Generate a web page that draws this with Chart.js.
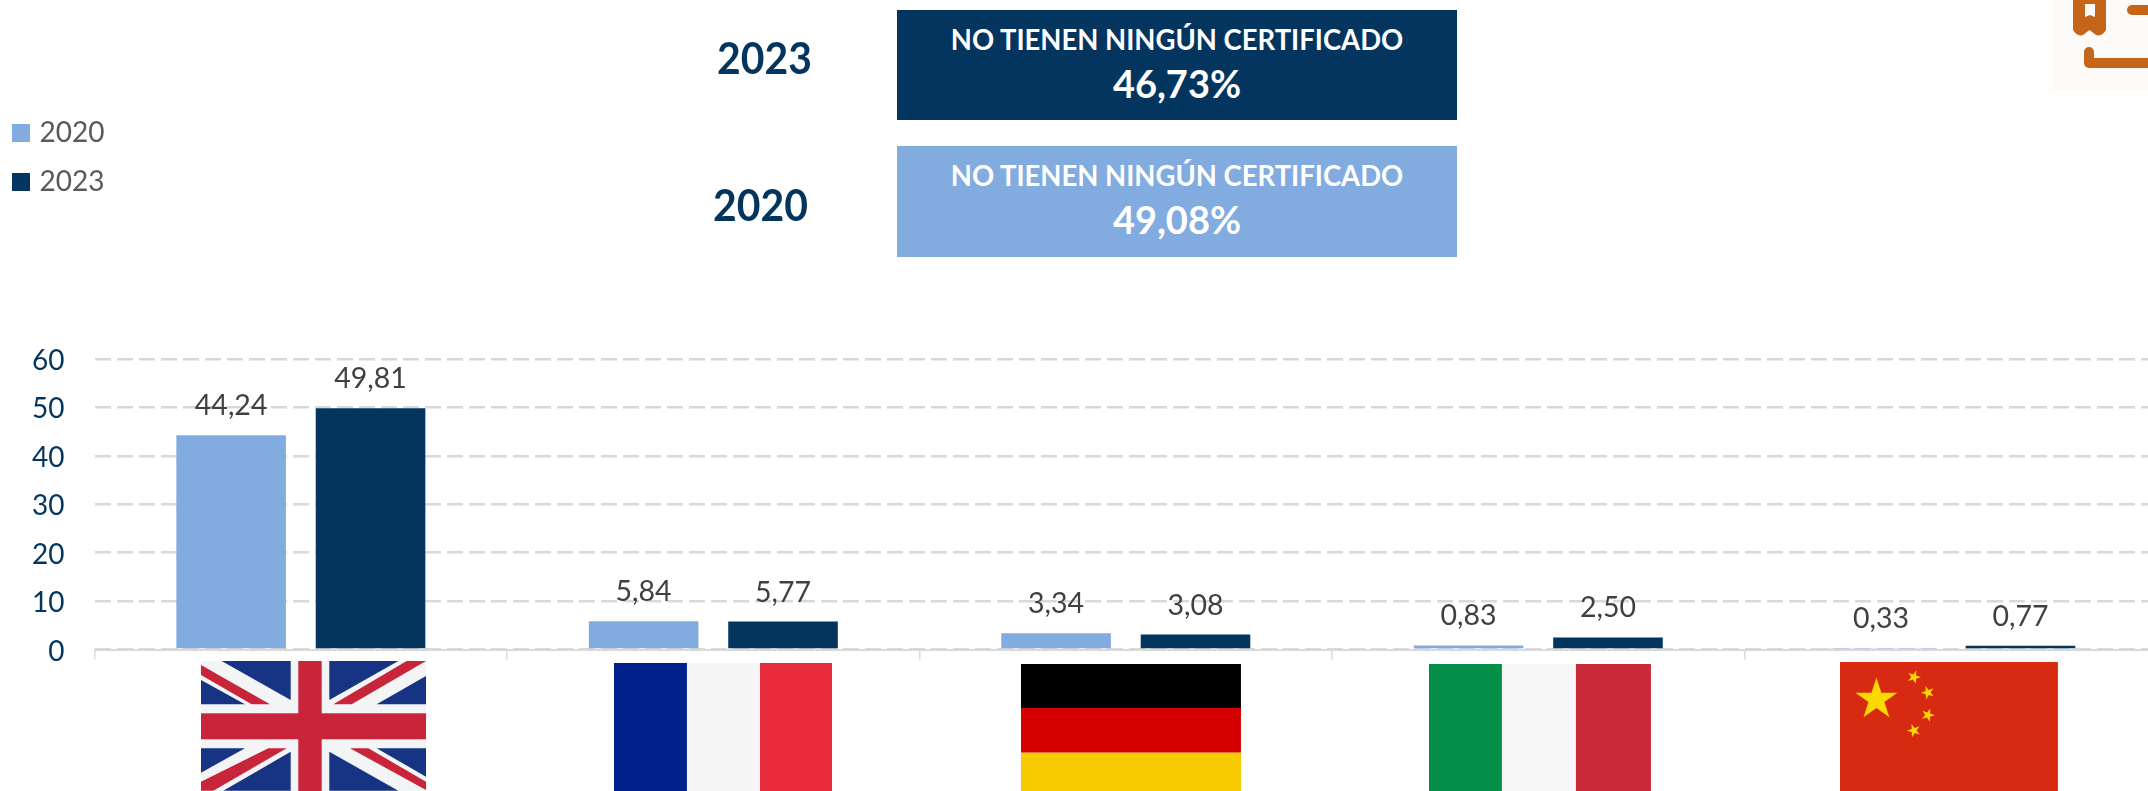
<!DOCTYPE html>
<html lang="es">
<head>
<meta charset="utf-8">
<title>No tienen ningún certificado</title>
<script src="https://cdn.jsdelivr.net/npm/chart.js@4"></script>
<style>
html,body{margin:0;padding:0;background:#fff;width:2148px;height:791px;overflow:hidden;font-family:Lato,sans-serif}
#chart{position:absolute;left:0;top:0}
.year{position:absolute;font-weight:700;font-size:44px;line-height:44px;color:#03355f;transform:scaleX(.93);transform-origin:left center}
.box{position:absolute;left:897px;width:560px;color:#fff;font-weight:700;text-align:center}
.box .a{position:absolute;left:0;right:0;font-size:28px;line-height:30px;transform:scaleX(.98)}
.box .b{position:absolute;left:0;right:0;font-size:38px;line-height:40px}
#icon{position:absolute;left:2052px;top:0}
</style>
</head>
<body>
<canvas id="chart" width="2157" height="791" style="width:2157px;height:791px"></canvas>
<div class="year" id="y1" style="left:717px;top:35px"></div>
<div class="year" id="y2" style="left:713px;top:182px"></div>
<div class="box" id="b1" style="top:10px;height:110px;background:#03355f"><div class="a" style="top:14px"></div><div class="b" style="top:53px"></div></div>
<div class="box" id="b2" style="top:146px;height:111px;background:#82ace0"><div class="a" style="top:14px"></div><div class="b" style="top:53px"></div></div>
<svg id="icon" width="96" height="90" viewBox="0 0 96 90">
<rect width="96" height="90" fill="#fdfaf8"/>
<path d="M21 -2H54V30Q50 37 44 35L37.5 30L31 35Q25 37 21 30Z" fill="#c4651a"/>
<path d="M33 4H43V17L38 15L33 17Z" fill="#fdfaf8"/>
<rect x="75" y="5" width="30" height="10" rx="5" fill="#c4651a"/>
<path d="M37 52V63H100" fill="none" stroke="#c4651a" stroke-width="10" stroke-linecap="round" stroke-linejoin="round"/>
</svg>
<script>
const categories = ['Reino Unido','Francia','Alemania','Italia','China'];
const seriesNames = ['2020','2023'];
const values2020 = [44.24,5.84,3.34,0.83,0.33];
const values2023 = [49.81,5.77,3.08,2.50,0.77];
const yTicks = [0,10,20,30,40,50,60];
const headerTitle = 'NO TIENEN NINGÚN CERTIFICADO';
const total2023 = '46,73%';
const total2020 = '49,08%';

const NAVY='#03355f', LIGHT='#82ace0', GRID='#d9d9d9';

document.getElementById('y1').textContent=seriesNames[1];
document.getElementById('y2').textContent=seriesNames[0];
for(const [id,t] of [['b1',total2023],['b2',total2020]]){
  const b=document.getElementById(id);
  b.querySelector('.a').textContent=headerTitle;
  b.querySelector('.b').textContent=t;
}

function poly(ctx,pts,color){
  ctx.fillStyle=color;ctx.beginPath();
  pts.forEach((p,i)=>i?ctx.lineTo(p[0],p[1]):ctx.moveTo(p[0],p[1]));
  ctx.closePath();ctx.fill();
}
function star(ctx,cx,cy,r,rot,color){
  const p=[];
  for(let i=0;i<10;i++){
    const a=rot-Math.PI/2+i*Math.PI/5, q=i%2?r*0.382:r;
    p.push([cx+q*Math.cos(a),cy+q*Math.sin(a)]);
  }
  poly(ctx,p,color);
}
function bands(ctx,w,h,stops,vertical){
  stops.forEach(([from,to,c])=>{
    ctx.fillStyle=c;
    if(vertical) ctx.fillRect(from,0,to-from,h); else ctx.fillRect(0,from,w,to-from);
  });
}
const flags=[
 {dx:12.65,top:661,w:225,h:130,draw(c,w,h){
   c.fillStyle='#f3f4f6';c.fillRect(0,0,w,h);
   const B='#173384',R='#c8243a',s=1/3;
   const P=a=>a.map(([x,y])=>[(x-63)*s,(y-33)*s]);
   [[[125,33],[332,33],[332,150]],[[63,90],[63,163],[195,163]],
    [[448,33],[655,33],[448,150]],[[738,78],[738,163],[590,163]],
    [[63,295],[195,295],[63,368]],[[130,422],[332,422],[332,305]],
    [[590,295],[738,295],[738,380]],[[448,305],[448,422],[655,422]]].forEach(t=>poly(c,P(t),B));
   [[[63,45],[63,75],[215,163],[270,163]],[[460,163],[515,163],[738,33],[680,33]],
    [[63,395],[63,422],[100,422],[320,295],[265,295]],[[510,295],[565,295],[738,395],[738,420]]].forEach(t=>poly(c,P(t),R));
   c.fillStyle=R;c.fillRect(97.3,0,23.4,h);c.fillRect(0,52.3,w,26);
 }},
 {dx:9.65,top:663,w:218,h:128,draw(c,w,h){bands(c,w,h,[[0,73,'#00218b'],[73,146,'#f5f5f5'],[146,218,'#e72b3a']],true);}},
 {dx:5.15,top:664,w:220,h:127,draw(c,w,h){bands(c,w,h,[[0,44,'#000'],[44,88.7,'#d60000'],[88.7,127,'#f8ca00']],false);}},
 {dx:1.65,top:664,w:222,h:127,draw(c,w,h){bands(c,w,h,[[0,73,'#038f48'],[73,147,'#f6f6f6'],[147,222,'#c92b3a']],true);}},
 {dx:-1.85,top:662,w:218,h:129,draw(c,w,h){
   c.fillStyle='#d82a10';c.fillRect(0,0,w,h);
   const Y='#fbd800';
   star(c,36.5,37.5,22,0,Y);
   [[74,15,.35],[88,30.5,.9],[88,53,-.9],[74,68.5,-.35]].forEach(([x,y,a])=>star(c,x,y,7,a,Y));
 }}
];

const decor={
  id:'decor',
  afterLayout(chart){
    const l=chart.legend;
    const w=l.width,h=l.height;
    l.left=-4.5;l.top=98;l.right=-4.5+w;l.bottom=98+h+40;
  },
  afterDatasetsDraw(chart){
    const c=chart.ctx;
    c.save();
    c.font='28.5px Lato';c.fillStyle='#404040';c.textAlign='center';c.textBaseline='alphabetic';
    chart.data.datasets.forEach((ds,i)=>{
      chart.getDatasetMeta(i).data.forEach((bar,j)=>{
        c.fillText(ds.data[j].toFixed(2).replace('.',','),bar.x,bar.y-20);
      });
    });
    c.restore();
  },
  afterDraw(chart){
    const c=chart.ctx,xs=chart.scales.x;
    flags.forEach((f,i)=>{
      c.save();
      c.translate(xs.getPixelForValue(i)-f.w/2+f.dx,f.top);
      c.beginPath();c.rect(0,0,f.w,f.h);c.clip();
      f.draw(c,f.w,f.h);
      c.restore();
    });
  }
};

new Chart(document.getElementById('chart'),{
  type:'bar',
  data:{labels:categories,datasets:[
    {label:seriesNames[0],data:values2020,backgroundColor:LIGHT,categoryPercentage:0.676,barPercentage:0.786},
    {label:seriesNames[1],data:values2023,backgroundColor:NAVY,categoryPercentage:0.676,barPercentage:0.786}
  ]},
  options:{
    responsive:false,animation:false,
    layout:{padding:{top:359,left:0,right:0,bottom:0}},
    plugins:{
      title:{display:false},tooltip:{enabled:false},
      legend:{display:true,position:'chartArea',align:'start',
        labels:{boxWidth:9,boxHeight:9,padding:21,color:'#595959',font:{family:'Lato',size:28},
          generateLabels(chart){
            return Chart.defaults.plugins.legend.labels.generateLabels(chart)
              .map(i=>({...i,strokeStyle:i.fillStyle,lineWidth:9}));
          }}}
    },
    scales:{
      x:{
        ticks:{display:false},
        grid:{drawOnChartArea:false,drawTicks:true,tickLength:10,color:GRID,lineWidth:1.5},
        border:{display:true,color:GRID,width:2},
        afterFit(s){s.height=141.5;s.paddingLeft=0;s.paddingRight=0;}
      },
      y:{
        min:0,max:60,
        afterBuildTicks(s){s.ticks=yTicks.map(v=>({value:v}));},
        ticks:{padding:30,color:NAVY,labelOffset:2,font:{family:'Lato',size:28}},
        grid:{drawTicks:false,color:GRID,lineWidth:2.5},
        border:{display:false,dash:[16,6]},
        afterFit(s){s.width=94.6;s.paddingTop=0;s.paddingBottom=0;}
      }
    }
  },
  plugins:[decor]
});
</script>
</body>
</html>
